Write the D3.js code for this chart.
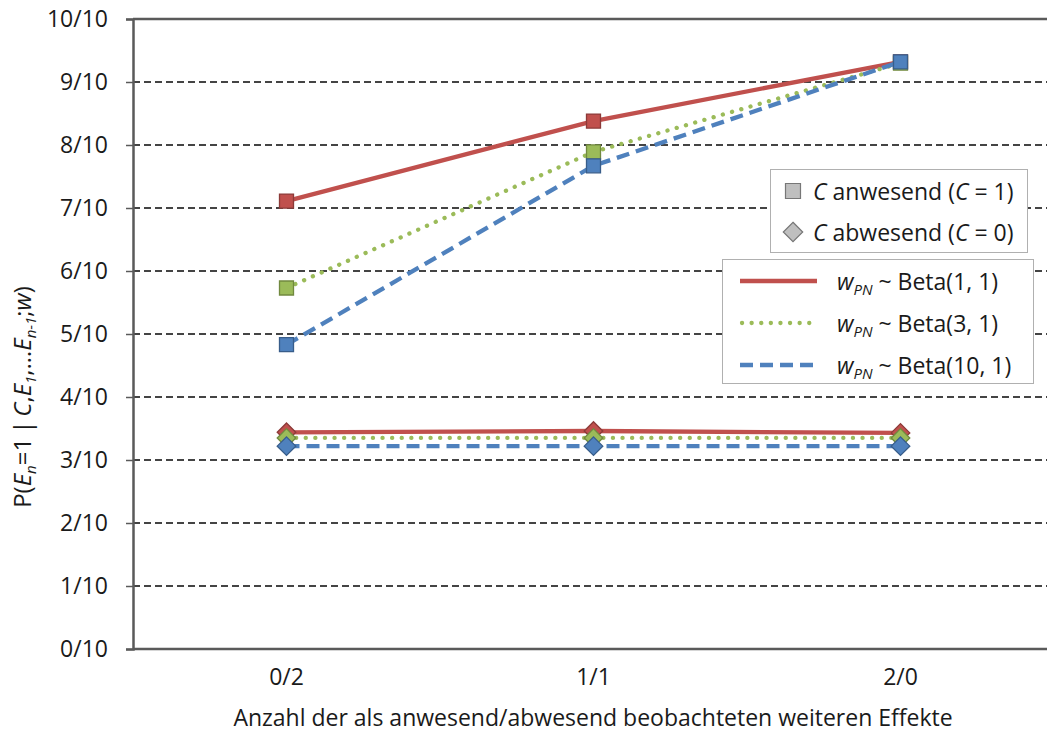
<!DOCTYPE html>
<html>
<head>
<meta charset="utf-8">
<script src="https://cdn.jsdelivr.net/npm/d3@7"></script>
<style>
  body { margin: 0; background: #fff; }
  svg { display: block; font-family: "Open Sans", "Noto Sans", sans-serif; }
</style>
</head>
<body>
<div class="vis-chart"></div>
<script>
// categories on the x axis
const categories = ["0/2", "1/1", "2/0"];
const yTicks = [0, 0.1, 0.2, 0.3, 0.4, 0.5, 0.6, 0.7, 0.8, 0.9, 1.0];

// C present (squares)
const presentBeta11 = [0.711, 0.838, 0.932];
const presentBeta31 = [0.573, 0.789, 0.930];
const presentBeta101 = [0.483, 0.767, 0.932];

// C absent (diamonds)
const absentBeta11 = [0.344, 0.346, 0.343];
const absentBeta31 = [0.335, 0.335, 0.335];
const absentBeta101 = [0.322, 0.322, 0.322];

const priorNames = ["Beta(1, 1)", "Beta(3, 1)", "Beta(10, 1)"];

const width = 1047, height = 733;
const margin = { top: 19, right: -7, bottom: 84, left: 133 };
const fs = "23px";
const subFs = "15px";

const styles = [
    { color: "#c0504d", edge: "#8c3a38", dash: null, cap: "butt" },
    { color: "#9bbb59", edge: "#71893f", dash: "0.1,9.5", cap: "round" },
    { color: "#4f81bd", edge: "#385d8a", dash: "13,7", cap: "butt" }
];

const svg = d3.select(".vis-chart").append("svg")
    .attr("width", width)
    .attr("height", height);

const xScale = d3.scaleBand()
    .domain(categories)
    .range([margin.left, width - margin.right])
    .padding(0);

const yScale = d3.scaleLinear()
    .domain([0, 1])
    .range([height - margin.bottom, margin.top]);

const xc = d => xScale(d) + xScale.bandwidth() / 2;

/* grid lines */
svg.append("g")
    .selectAll("line")
    .data(yTicks.filter(t => t > 0 && t < 1))
    .enter().append("line")
    .attr("x1", margin.left)
    .attr("x2", width)
    .attr("y1", d => yScale(d))
    .attr("y2", d => yScale(d))
    .attr("stroke", "#444")
    .attr("stroke-width", 2)
    .attr("stroke-dasharray", "7,4");

/* frame: top and bottom solid */
[1, 0].forEach(v => {
    svg.append("line")
        .attr("x1", margin.left).attr("x2", width)
        .attr("y1", yScale(v)).attr("y2", yScale(v))
        .attr("stroke", "#5a5a5a").attr("stroke-width", 2.5);
});

/* y axis */
const yAxis = d3.axisLeft(yScale)
    .tickValues(yTicks)
    .tickSize(7)
    .tickFormat(d => Math.round(d * 10) + "/10");

const yg = svg.append("g")
    .attr("transform", "translate(" + margin.left + ",0)")
    .call(yAxis);
yg.attr("font-family", null).attr("font-size", null);
yg.select(".domain").attr("stroke", "#5a5a5a").attr("stroke-width", 2.5);
yg.selectAll(".tick line").attr("stroke", "#5a5a5a").attr("stroke-width", 1.5);
yg.selectAll(".tick text")
    .attr("x", -25)
    .attr("dy", "0.34em")
    .style("font-size", fs)
    .attr("fill", "#1a1a1a");

/* x axis labels */
svg.append("g")
    .selectAll("text")
    .data(categories)
    .enter().append("text")
    .attr("x", d => xc(d))
    .attr("y", yScale(0) + 36)
    .attr("text-anchor", "middle")
    .style("font-size", fs)
    .attr("fill", "#1a1a1a")
    .text(d => d);

/* axis titles */
svg.append("text")
    .attr("x", 593)
    .attr("y", 726)
    .attr("text-anchor", "middle")
    .style("font-size", fs)
    .attr("fill", "#1a1a1a")
    .text("Anzahl der als anwesend/abwesend beobachteten weiteren Effekte");

const yTitle = svg.append("text")
    .attr("text-anchor", "middle")
    .attr("transform", "translate(31," + 397 + ")rotate(-90)")
    .style("font-size", "24px")
    .attr("fill", "#1a1a1a");
yTitle.append("tspan").text("P(");
yTitle.append("tspan").style("font-style", "italic").text("E");
yTitle.append("tspan").style("font-style", "italic").style("font-size", subFs).attr("dy", 5).text("n");
yTitle.append("tspan").attr("dy", -5).text("=1\u2009|\u2009");
yTitle.append("tspan").style("font-style", "italic").text("C");
yTitle.append("tspan").text(",");
yTitle.append("tspan").style("font-style", "italic").text("E");
yTitle.append("tspan").style("font-style", "italic").style("font-size", subFs).attr("dy", 5).text("1");
yTitle.append("tspan").attr("dy", -5).text(",\u2026");
yTitle.append("tspan").style("font-style", "italic").text("E");
yTitle.append("tspan").style("font-style", "italic").style("font-size", subFs).attr("dy", 5).text("n-1");
yTitle.append("tspan").attr("dy", -5).text(";");
yTitle.append("tspan").style("font-style", "italic").text("w");
yTitle.append("tspan").text(")");

/* series */
const line = d3.line()
    .x((d, i) => xc(categories[i]))
    .y(d => yScale(d));

function drawSeries(values, st, shape) {
    svg.append("path")
        .datum(values)
        .attr("d", line)
        .attr("fill", "none")
        .attr("stroke", st.color)
        .attr("stroke-width", 4.3)
        .attr("stroke-linecap", st.cap)
        .attr("stroke-dasharray", st.dash);

    const sym = shape === "square"
        ? d3.symbol().type(d3.symbolSquare).size(196)
        : d3.symbol().type(d3.symbolDiamond2).size(220);

    svg.append("g")
        .selectAll("path")
        .data(values)
        .enter().append("path")
        .attr("d", sym)
        .attr("transform", (d, i) => "translate(" + xc(categories[i]) + "," + yScale(d) + ")")
        .attr("fill", st.color)
        .attr("stroke", st.edge)
        .attr("stroke-width", 1.3);
}

const absentSeries = [absentBeta11, absentBeta31, absentBeta101];
const presentSeries = [presentBeta11, presentBeta31, presentBeta101];
absentSeries.forEach((s, i) => drawSeries(s, styles[i], "diamond"));
presentSeries.forEach((s, i) => drawSeries(s, styles[i], "square"));

/* legend 1: marker shapes */
const leg1 = svg.append("g");
leg1.append("rect")
    .attr("x", 770.5).attr("y", 169.5).attr("width", 257).attr("height", 83)
    .attr("fill", "#fff").attr("stroke", "#b0b0b0");
leg1.append("path")
    .attr("d", d3.symbol().type(d3.symbolSquare).size(225))
    .attr("transform", "translate(793,191)")
    .attr("fill", "#bfbfbf").attr("stroke", "#777").attr("stroke-width", 1.2);
leg1.append("path")
    .attr("d", d3.symbol().type(d3.symbolDiamond2).size(240))
    .attr("transform", "translate(793,232)")
    .attr("fill", "#bfbfbf").attr("stroke", "#777").attr("stroke-width", 1.2);

[["anwesend", "1", 200], ["abwesend", "0", 241]].forEach(r => {
    const t = leg1.append("text")
        .attr("x", 813).attr("y", r[2])
        .style("font-size", fs).attr("fill", "#1a1a1a");
    t.append("tspan").style("font-style", "italic").text("C");
    t.append("tspan").text(" " + r[0] + " (");
    t.append("tspan").style("font-style", "italic").text("C");
    t.append("tspan").text(" = " + r[1] + ")");
});

/* legend 2: priors */
const leg2 = svg.append("g");
leg2.append("rect")
    .attr("x", 722.5).attr("y", 259.5).attr("width", 311).attr("height", 124)
    .attr("fill", "#fff").attr("stroke", "#b0b0b0");

priorNames.forEach((name, i) => {
    const y = 281 + i * 42;
    leg2.append("line")
        .attr("x1", i === 1 ? 742 : 740).attr("x2", 817)
        .attr("y1", y).attr("y2", y)
        .attr("stroke", styles[i].color)
        .attr("stroke-width", 4.3)
        .attr("stroke-linecap", styles[i].cap)
        .attr("stroke-dasharray", styles[i].dash);
    const t = leg2.append("text")
        .attr("x", 837).attr("y", y + 9)
        .style("font-size", fs).attr("fill", "#1a1a1a");
    t.append("tspan").style("font-style", "italic").text("w");
    t.append("tspan").style("font-style", "italic").style("font-size", subFs).attr("dy", 5).text("PN");
    t.append("tspan").attr("dy", -5).text(" ~ " + name);
});
</script>
</body>
</html>
